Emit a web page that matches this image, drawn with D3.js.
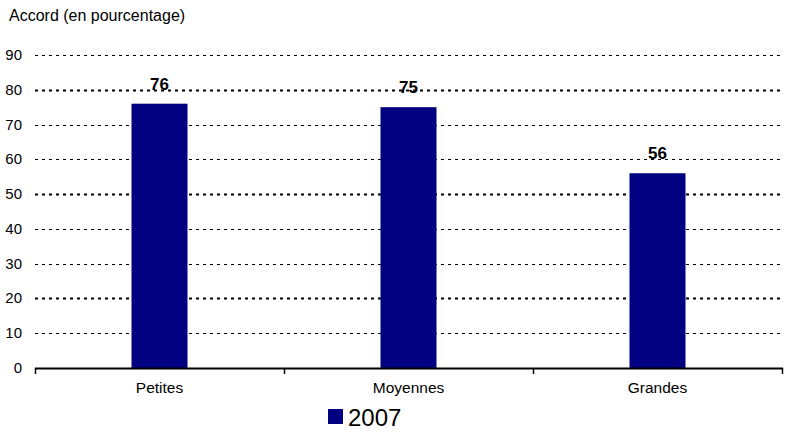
<!DOCTYPE html>
<meta charset="utf-8">
<title>Accord</title>
<style>
  body { margin: 0; background: #fff; }
  text { font-family: "Liberation Sans", Arial, sans-serif; }
</style>
<body>
<script src="https://d3js.org/d3.v7.min.js"></script>
<script>
const categories = ["Petites", "Moyennes", "Grandes"];
const values = [76, 75, 56];
const yTicks = [0, 10, 20, 30, 40, 50, 60, 70, 80, 90];
const seriesName = "2007";

const width = 789, height = 434;
const mLeft = 35, mRight = 782, mTop = 55, mBottom = 368;

const svg = d3.select("body").append("svg")
    .attr("width", width).attr("height", height);

const x = d3.scaleBand().domain(categories).range([mLeft, mRight]).paddingInner(0).paddingOuter(0);
const y = d3.scaleLinear().domain([0, 90]).range([mBottom, mTop]);
const barW = 56;

// gridlines
svg.append("g").selectAll("line")
  .data(yTicks.filter(d => d > 0))
  .join("line")
    .attr("x1", mLeft).attr("x2", mRight)
    .attr("y1", d => Math.round(y(d)) + 0.5).attr("y2", d => Math.round(y(d)) + 0.5)
    .attr("stroke", "#000")
    .attr("stroke-width", d => (d % 30 === 20) ? 2 : 1)
    .attr("stroke-dasharray", "3,4");

// y labels
svg.append("g").selectAll("text")
  .data(yTicks)
  .join("text")
    .attr("x", 22).attr("y", d => y(d) + 5)
    .attr("text-anchor", "end")
    .attr("font-size", 15)
    .text(d => d);

// bars
svg.append("g").selectAll("rect")
  .data(values)
  .join("rect")
    .attr("x", (d, i) => x(categories[i]) + x.bandwidth() / 2 - barW / 2)
    .attr("width", barW)
    .attr("y", d => y(d))
    .attr("height", d => y(0) - y(d))
    .attr("fill", "#000080");

// value labels
svg.append("g").selectAll("text")
  .data(values)
  .join("text")
    .attr("x", (d, i) => x(categories[i]) + x.bandwidth() / 2)
    .attr("y", d => y(d) - 14)
    .attr("text-anchor", "middle")
    .attr("font-size", 17)
    .attr("font-weight", "bold")
    .text(d => d);

// x axis
const xAxis = d3.axisBottom(x).tickSize(0).tickPadding(14);
const gx = svg.append("g").attr("transform", `translate(0,${mBottom})`).call(xAxis);
gx.select(".domain").remove();
gx.selectAll("text").attr("font-size", 15.5).attr("font-family", null).attr("fill", "#000");
svg.append("line").attr("x1", mLeft).attr("x2", mRight + 1)
  .attr("y1", mBottom + 0.5).attr("y2", mBottom + 0.5)
  .attr("stroke", "#000").attr("stroke-width", 2);
const bounds = categories.map(c => x(c)).concat([x(categories[categories.length - 1]) + x.bandwidth()]);
svg.append("g").selectAll("line")
  .data(bounds)
  .join("line")
    .attr("x1", d => Math.round(d) + 0.5).attr("x2", d => Math.round(d) + 0.5)
    .attr("y1", mBottom).attr("y2", mBottom + 6)
    .attr("stroke", "#000").attr("stroke-width", 1.5);

// title
svg.append("text").attr("x", 9).attr("y", 21).attr("font-size", 16).text("Accord (en pourcentage)");

// legend
svg.append("rect").attr("x", 328).attr("y", 409).attr("width", 15).attr("height", 15).attr("fill", "#000080");
svg.append("text").attr("x", 348).attr("y", 426).attr("font-size", 24).text(seriesName);
</script>
</body>
